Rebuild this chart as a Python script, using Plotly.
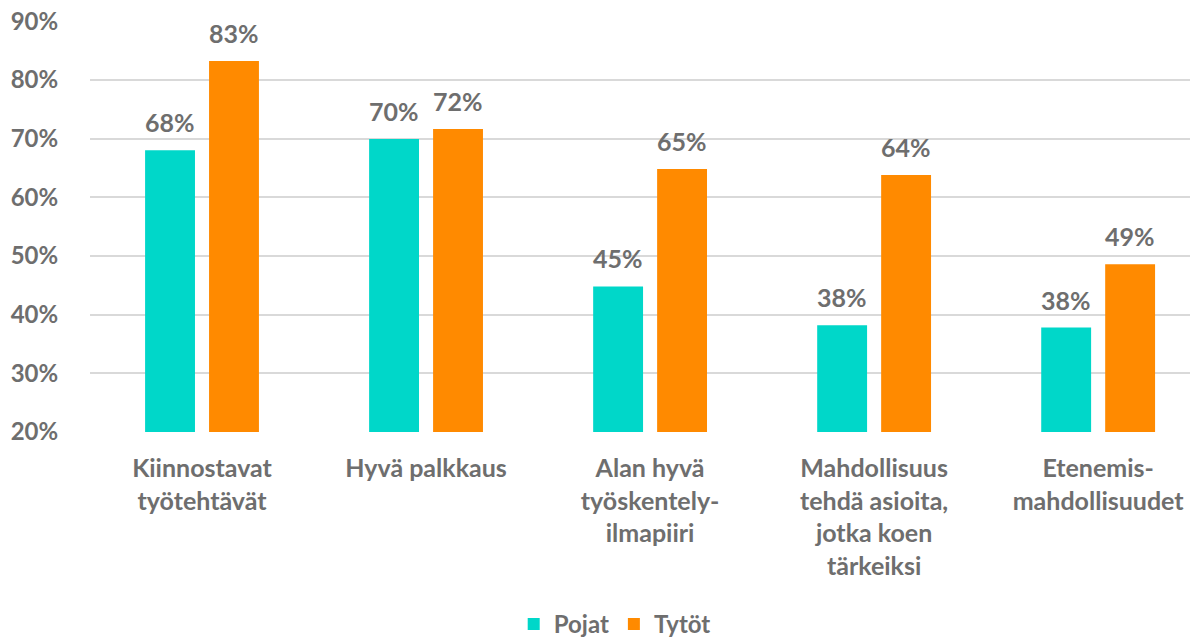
import plotly.graph_objects as go

categories = ["Kiinnostavat<br>työtehtävät", "Hyvä palkkaus", "Alan hyvä<br>työskentely-<br>ilmapiiri",
              "Mahdollisuus<br>tehdä asioita,<br>jotka koen<br>tärkeiksi", "Etenemis-<br>mahdollisuudet"]
pojat = [68.0, 69.9, 44.8, 38.2, 37.8]
tytot = [83.2, 71.6, 64.8, 63.8, 48.6]
y_ticks = [20, 30, 40, 50, 60, 70, 80, 90]
y_tick_labels = [f"{v}%" for v in y_ticks]

GREY = "#6e6e6e"
FONT = "Lato"

fig = go.Figure()
series = [("Pojat", pojat, "#00d7c9", -32), ("Tytöt", tytot, "#ff8a00", 32)]
for name, vals, color, dx in series:
    fig.add_trace(go.Bar(
        name=name, x=categories, y=vals, marker_color=color, marker_line_width=0,
        hovertemplate="%{y:.0f}%<extra>" + name + "</extra>",
    ))
    for cat, v in zip(categories, vals):
        fig.add_annotation(x=cat, y=v, text=f"{round(v):.0f}%", showarrow=False,
                           xanchor="center", yanchor="bottom", xshift=dx, yshift=11,
                           font=dict(family=FONT, size=25, color=GREY, weight="bold"))

fig.update_layout(
    width=1190, height=639,
    margin=dict(l=90, r=0, t=21, b=207, autoexpand=False),
    plot_bgcolor="white", paper_bgcolor="white",
    barmode="group", bargap=0.429, bargroupgap=0.22,
    font=dict(family=FONT, size=24, color=GREY, weight="bold"),
    showlegend=True,
    legend=dict(orientation="h", x=0.477, xanchor="center", y=-0.468, yanchor="middle",
                font=dict(family=FONT, size=24, color=GREY, weight="bold"),
                itemwidth=30, tracegroupgap=0),
    xaxis=dict(range=[-0.5, 4.41], showgrid=False, showline=False, ticks="outside", ticklen=14,
               automargin=False, tickcolor="rgba(0,0,0,0)",
               tickfont=dict(family=FONT, size=25, color=GREY, weight="bold")),
    yaxis=dict(range=[20, 90.02], tickvals=y_ticks, ticktext=y_tick_labels, showgrid=True, automargin=False,
               gridcolor="#d9d9d9", gridwidth=1.5, zeroline=False, showline=False,
               ticks="outside", ticklen=26, tickcolor="rgba(0,0,0,0)",
               tickfont=dict(family=FONT, size=24, color=GREY, weight="bold")),
)

fig.write_html("out.html", config={"displayModeBar": False},
               post_script="document.body.style.margin='0';")
